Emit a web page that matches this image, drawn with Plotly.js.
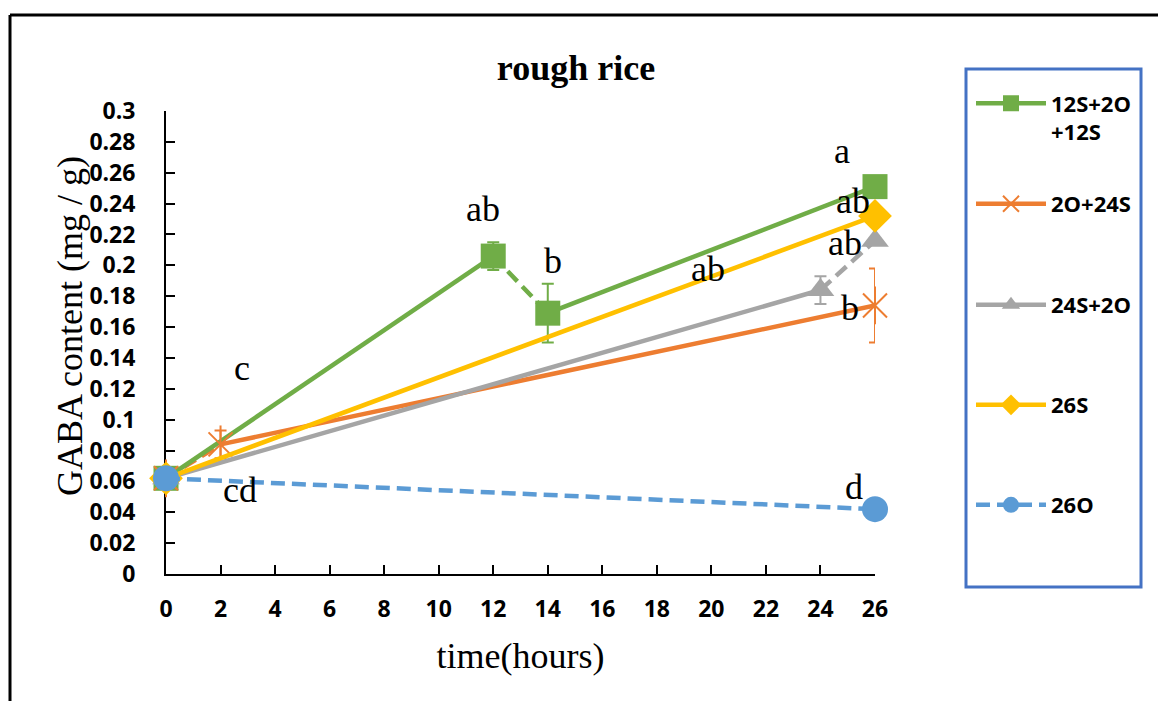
<!DOCTYPE html>
<html>
<head>
<meta charset="utf-8">
<script src="https://cdn.plot.ly/plotly-3.0.1.min.js"></script>
<style>
html,body{margin:0;padding:0;background:#ffffff;}
#chart{width:1158px;height:701px;}
</style>
</head>
<body>
<div id="chart"></div>
<script>
// ---------------- data ----------------
const seriesNames = ['12S+2O<br>+12S', '2O+24S', '24S+2O', '26S', '26O'];

const time_12S2O12S = [0, 12, 14, 26];
const gaba_12S2O12S = [0.062, 0.206, 0.169, 0.251];
const err_12S2O12S  = [null, 0.009, 0.019, null];

const time_2O24S = [0, 2, 26];
const gaba_2O24S = [0.062, 0.084, 0.174];
const err_2O24S  = [null, 0.009, 0.024];

const time_24S2O = [0, 24, 26];
const gaba_24S2O = [0.062, 0.184, 0.216];
const err_24S2O  = [null, 0.009, null];

const time_26S = [0, 26];
const gaba_26S = [0.062, 0.232];

const time_26O = [0, 26];
const gaba_26O = [0.062, 0.042];

const xTickVals = [0, 2, 4, 6, 8, 10, 12, 14, 16, 18, 20, 22, 24, 26];
const yTickVals = [0, 0.02, 0.04, 0.06, 0.08, 0.1, 0.12, 0.14, 0.16, 0.18, 0.2, 0.22, 0.24, 0.26, 0.28, 0.3];

// significance letters (Excel data labels)
const letterTexts = ['a', 'ab', 'b', 'ab', 'ab', 'ab', 'b', 'c', 'cd', 'd'];
const letterX     = [24.79, 11.62, 14.19, 19.87, 25.19, 24.90, 25.10, 2.79, 2.71, 25.23];
const letterY     = [0.2715, 0.2340, 0.2002, 0.1950, 0.2391, 0.2119, 0.1698, 0.1309, 0.0518, 0.0538];

// ---------------- styling ----------------
const colors = ['#70AD47', '#ED7D31', '#A5A5A5', '#FFC000', '#5B9BD5'];
const LW = 4.5;
const DASH = '14px,7px';

// Which segment (index i means point i -> i+1) of each series is dashed
const dashedSeg = [1, 0, 1, null, 'all'];

const series = [
  {x: time_12S2O12S, y: gaba_12S2O12S, e: err_12S2O12S, symbol: 'square', size: 25},
  {x: time_2O24S,    y: gaba_2O24S,    e: err_2O24S,    symbol: 'x-thin-open', size: 24},
  {x: time_24S2O,    y: gaba_24S2O,    e: err_24S2O,    symbol: 'triangle-up', size: 24},
  {x: time_26S,      y: gaba_26S,      e: null,         symbol: 'diamond', size: 26},
  {x: time_26O,      y: gaba_26O,      e: null,         symbol: 'circle', size: 26}
];

const legendIds = ['legend', 'legend2', 'legend3', 'legend4', 'legend5'];

const dashTraces = [];
const mainTraces = [];
const extraTraces = [];

series.forEach((s, k) => {
  const seg = dashedSeg[k];
  let xs = [], ys = [], es = [];
  if (seg === 'all') {
    xs = s.x.slice(); ys = s.y.slice(); es = s.e ? s.e.slice() : null;
  } else {
    for (let i = 0; i < s.x.length; i++) {
      xs.push(s.x[i]); ys.push(s.y[i]);
      if (s.e) es.push(s.e[i]);
      if (seg !== null && i === seg) { xs.push(null); ys.push(null); if (s.e) es.push(null); }
    }
    if (seg !== null) {
      dashTraces.push({
        x: [s.x[seg], s.x[seg + 1]], y: [s.y[seg], s.y[seg + 1]],
        type: 'scatter', mode: 'lines', showlegend: false, hoverinfo: 'skip',
        cliponaxis: false,
        line: {color: colors[k], width: LW, dash: DASH}
      });
    }
  }
  const isOpen = s.symbol.indexOf('open') >= 0;
  const tr = {
    x: xs, y: ys, name: seriesNames[k], type: 'scatter', mode: 'lines+markers',
    connectgaps: false, cliponaxis: false, legend: legendIds[k],
    line: {color: colors[k], width: LW, dash: seg === 'all' ? DASH : 'solid'},
    marker: {symbol: s.symbol, size: s.size, color: colors[k],
             line: {color: colors[k], width: isOpen ? 2 : 0}}
  };
  if (s.e) {
    tr.error_y = {type: 'data', array: es, symmetric: true, visible: true,
                  color: colors[k], thickness: 2, width: 6};
  }
  mainTraces.push(tr);
  if (s.symbol === 'x-thin-open') {
    extraTraces.push({
      x: s.x, y: s.y, type: 'scatter', mode: 'markers', showlegend: false,
      hoverinfo: 'skip', cliponaxis: false,
      marker: {symbol: 'line-ns-open', size: s.size + 3, color: colors[k],
               line: {color: colors[k], width: 2}}
    });
  }
});

const data = dashTraces.concat(extraTraces).concat(mainTraces);

// ---------------- layout geometry ----------------
const W = 1158, H = 701;
const L = 166, R = 875, T = 111, B = 574;
const px2x = p => (p - L) / (R - L);
const py2y = p => (B - p) / (B - T);

const serif = 'Liberation Serif, Times New Roman, serif';
const sans = 'Open Sans, Liberation Sans, Arial, sans-serif';

const annotations = letterTexts.map((t, i) => ({
  x: letterX[i], y: letterY[i], xref: 'x', yref: 'y', text: t, showarrow: false,
  xanchor: 'center', yanchor: 'middle', yshift: 4,
  font: {family: serif, size: 36, color: '#000000'}
}));
annotations.push({
  x: px2x(70), y: py2y(326), xref: 'paper', yref: 'paper',
  text: 'GABA content (mg / g)', textangle: -90, showarrow: false,
  xanchor: 'center', yanchor: 'middle',
  font: {family: serif, size: 36, color: '#000000'}
});

const legendBase = {
  xanchor: 'left', yanchor: 'middle', bgcolor: 'rgba(0,0,0,0)', borderwidth: 0,
  font: {family: sans, size: 22, color: '#000000', weight: 700},
  itemwidth: 70, valign: 'top', itemclick: false, itemdoubleclick: false
};
const legendRowsPx = [118, 204, 305, 405, 505];
const legendX = px2x(971);

const layout = {
  width: W, height: H,
  margin: {l: L, r: W - R, t: T, b: H - B, pad: 0},
  paper_bgcolor: '#ffffff', plot_bgcolor: '#ffffff',
  showlegend: true,
  title: {
    text: '<b>rough rice</b>', x: 576 / W, xanchor: 'center',
    xref: 'container', yref: 'container', y: 1 - 67.5 / H, yanchor: 'middle',
    font: {family: serif, size: 36, color: '#000000'}
  },
  xaxis: {
    range: [0, 26], tickvals: xTickVals, ticktext: xTickVals.map(String),
    showgrid: false, zeroline: false, showline: true, linecolor: '#000000', linewidth: 2,
    ticks: 'inside', ticklen: 9, tickwidth: 2, tickcolor: '#000000',
    ticklabelstandoff: 13,
    tickfont: {family: sans, size: 23, color: '#000000', weight: 700},
    layer: 'below traces', automargin: false, fixedrange: true,
    title: {text: 'time(hours)', standoff: 20,
            font: {family: serif, size: 36, color: '#000000'}}
  },
  yaxis: {
    range: [0, 0.3], tickvals: yTickVals, ticktext: yTickVals.map(String),
    showgrid: false, zeroline: false, showline: true, linecolor: '#000000', linewidth: 2,
    ticks: 'inside', ticklen: 9, tickwidth: 2, tickcolor: '#000000',
    ticklabelstandoff: 24,
    tickfont: {family: sans, size: 23, color: '#000000', weight: 700},
    layer: 'below traces', automargin: false, fixedrange: true
  },
  annotations: annotations,
  shapes: [
    // outer frame (top and left edges, continuing past the picture)
    {type: 'line', xref: 'paper', yref: 'paper', x0: px2x(10), y0: py2y(15), x1: px2x(W + 20), y1: py2y(15),
     line: {color: '#000000', width: 3}},
    {type: 'line', xref: 'paper', yref: 'paper', x0: px2x(10), y0: py2y(15), x1: px2x(10), y1: py2y(H + 20),
     line: {color: '#000000', width: 3}},
    // legend box
    {type: 'rect', xref: 'paper', yref: 'paper', x0: px2x(966), y0: py2y(587), x1: px2x(1141), y1: py2y(69),
     line: {color: '#4472C4', width: 3}, fillcolor: 'rgba(0,0,0,0)'}
  ]
};
legendIds.forEach((id, i) => {
  layout[id] = Object.assign({}, legendBase, {x: legendX, y: py2y(legendRowsPx[i])});
});

Plotly.newPlot('chart', data, layout, {displayModeBar: false, staticPlot: true});
</script>
</body>
</html>
